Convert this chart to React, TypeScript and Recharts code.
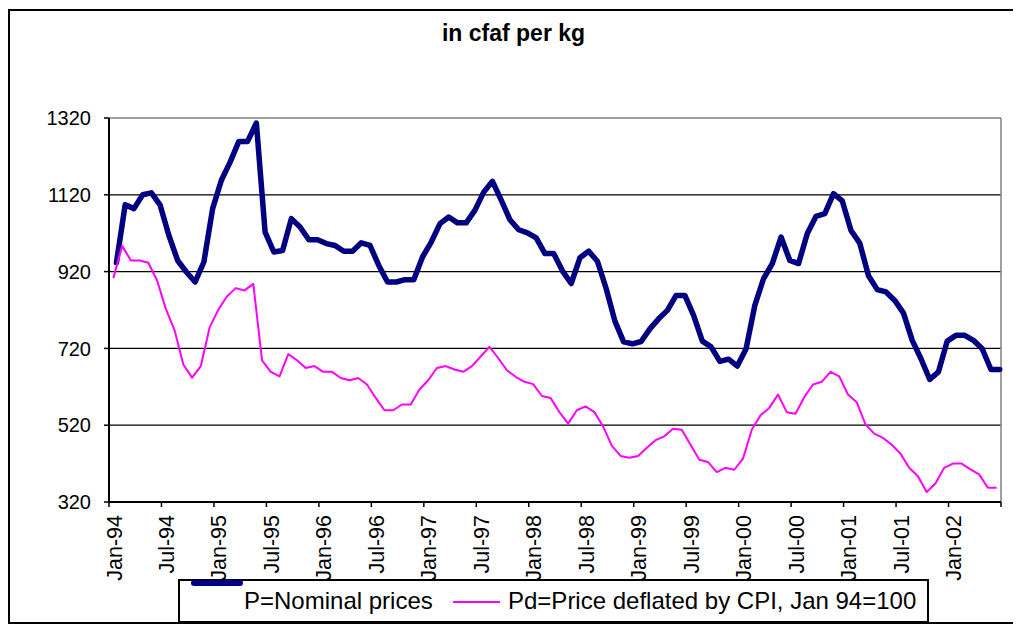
import { LineChart, Line, XAxis, YAxis, CartesianGrid, ReferenceLine } from "recharts";

// monthly series, Jan-94 .. Jun-02
const NOMINAL = [
  943, 1094, 1084, 1120, 1125, 1093, 1014, 949, 919, 893, 945, 1084,
  1158, 1205, 1259, 1259, 1307, 1023, 971, 975, 1058, 1036, 1003, 1003,
  993, 988, 973, 973, 995, 988, 936, 893, 893, 899, 899, 958,
  997, 1045, 1062, 1047, 1047, 1080, 1127, 1155, 1106, 1055, 1029, 1021,
  1008, 967, 967, 922, 889, 956, 973, 947, 876, 791, 737, 732,
  738, 771, 797, 819, 858, 858, 806, 739, 724, 686, 692, 674,
  719, 832, 902, 941, 1010, 949, 941, 1019, 1064, 1071, 1123, 1104,
  1027, 994, 909, 873, 867, 845, 812, 741, 693, 639, 659, 739,
  754, 754, 741, 719, 665, 665,
];

const DEFLATED = [
  903, 987, 949, 949, 943, 897, 823, 767, 678, 644, 674, 774,
  821, 856, 877, 871, 888, 689, 659, 647, 705, 689, 669, 674,
  659, 659, 643, 637, 643, 626, 591, 559, 559, 574, 574, 613,
  637, 669, 674, 665, 659, 674, 699, 724, 695, 663, 646, 633,
  627, 596, 591, 554, 524, 559, 569, 554, 517, 466, 440, 435,
  440, 461, 481, 491, 511, 508, 469, 430, 424, 398, 409, 404,
  433, 508, 546, 565, 600, 554, 550, 593, 626, 633, 659, 647,
  600, 580, 522, 498, 487, 469, 446, 409, 387, 346, 368, 409,
  420, 420, 405, 392, 357, 357,
];

const TICK_LABELS = [
  "Jan-94", "Jul-94", "Jan-95", "Jul-95", "Jan-96", "Jul-96", "Jan-97", "Jul-97", "Jan-98",
  "Jul-98", "Jan-99", "Jul-99", "Jan-00", "Jul-00", "Jan-01", "Jul-01", "Jan-02",
];

const Y_TICKS = [320, 520, 720, 920, 1120, 1320];
const GRID_VALUES = [520, 720, 920, 1120];

const FONT = '"Liberation Sans", Arial, sans-serif';
const N = NOMINAL.length;
const SHIFT = 0.35; // nominal line sits a little right of the deflated one in the original

const data = NOMINAL.map((p, i) => ({ idx: i, p, pd: DEFLATED[i] }));
// tick marks sit between months, every 6 months
const xTicks = Array.from({ length: N / 6 + 1 }, (_, k) => k * 6 - 0.5);

function MonthTick(props: any) {
  const { x, y, payload } = props;
  const k = Math.round((payload.value + 0.5) / 6);
  const label = TICK_LABELS[k];
  if (!label) return <g />;
  return (
    <text
      transform={`translate(${x + 12.5},${y}) rotate(-90)`}
      textAnchor="end"
      fontSize={21.5}
      fontFamily={FONT}
      fill="#000"
    >
      {label}
    </text>
  );
}

export default function App() {
  return (
    <div
      style={{
        position: "relative",
        width: 1011,
        height: 615,
        marginTop: 1,
        border: "2px solid #000",
        boxSizing: "border-box",
        fontFamily: FONT,
        background: "#fff",
      }}
    >
      <LineChart width={1007} height={611} data={data} margin={{ top: 107, right: 16, bottom: 0, left: 0 }}>
        <CartesianGrid horizontal vertical={false} horizontalValues={GRID_VALUES} stroke="#000" strokeWidth={1.2} />
        <XAxis
          dataKey="idx"
          type="number"
          domain={[-0.5, N - 0.5]}
          ticks={xTicks}
          interval={0}
          height={120}
          tickSize={5}
          tickMargin={8}
          tick={<MonthTick />}
          tickLine={{ stroke: "#000", strokeWidth: 1.5 }}
          axisLine={{ stroke: "#000", strokeWidth: 2 }}
        />
        <XAxis xAxisId="shift" dataKey="idx" type="number" domain={[-0.5 - SHIFT, N - 0.5 - SHIFT]} hide />
        <YAxis
          domain={[320, 1320]}
          ticks={Y_TICKS}
          interval={0}
          width={99}
          tickSize={5}
          tickMargin={13}
          tick={{ fill: "#000", fontSize: 20, fontFamily: FONT }}
          tickLine={{ stroke: "#000", strokeWidth: 1.5 }}
          axisLine={{ stroke: "#000", strokeWidth: 2 }}
        />
        <ReferenceLine y={1320} stroke="#808080" strokeWidth={1.5} />
        <ReferenceLine x={N - 0.5} stroke="#808080" strokeWidth={1.5} />
        <Line
          xAxisId="shift"
          dataKey="p"
          type="linear"
          stroke="#000080"
          strokeWidth={5.5}
          strokeLinejoin="round"
          strokeLinecap="round"
          dot={false}
          isAnimationActive={false}
        />
        <Line
          dataKey="pd"
          type="linear"
          stroke="#FF00FF"
          strokeWidth={2}
          strokeLinejoin="round"
          dot={false}
          isAnimationActive={false}
        />
      </LineChart>

      <div
        style={{
          position: "absolute",
          left: 0,
          top: 11,
          width: "100%",
          textAlign: "center",
          fontWeight: "bold",
          fontSize: 23,
          lineHeight: "23px",
          color: "#000",
        }}
      >
        in cfaf per kg
      </div>

      <div
        style={{
          position: "absolute",
          left: 168,
          top: 568,
          width: 751,
          height: 44,
          border: "2px solid #000",
          boxSizing: "border-box",
          background: "#fff",
          fontSize: 24,
          lineHeight: "24px",
          color: "#000",
          whiteSpace: "nowrap",
        }}
      >
        <div
          style={{
            position: "absolute",
            left: 11,
            top: -1,
            width: 52,
            height: 5.5,
            borderRadius: 3,
            background: "#000080",
          }}
        />
        <span style={{ position: "absolute", left: 64, top: 8 }}>P=Nominal prices</span>
        <div style={{ position: "absolute", left: 273, top: 19.5, width: 47, height: 2, background: "#FF00FF" }} />
        <span style={{ position: "absolute", left: 328, top: 8 }}>Pd=Price deflated by CPI, Jan 94=100</span>
      </div>
    </div>
  );
}
